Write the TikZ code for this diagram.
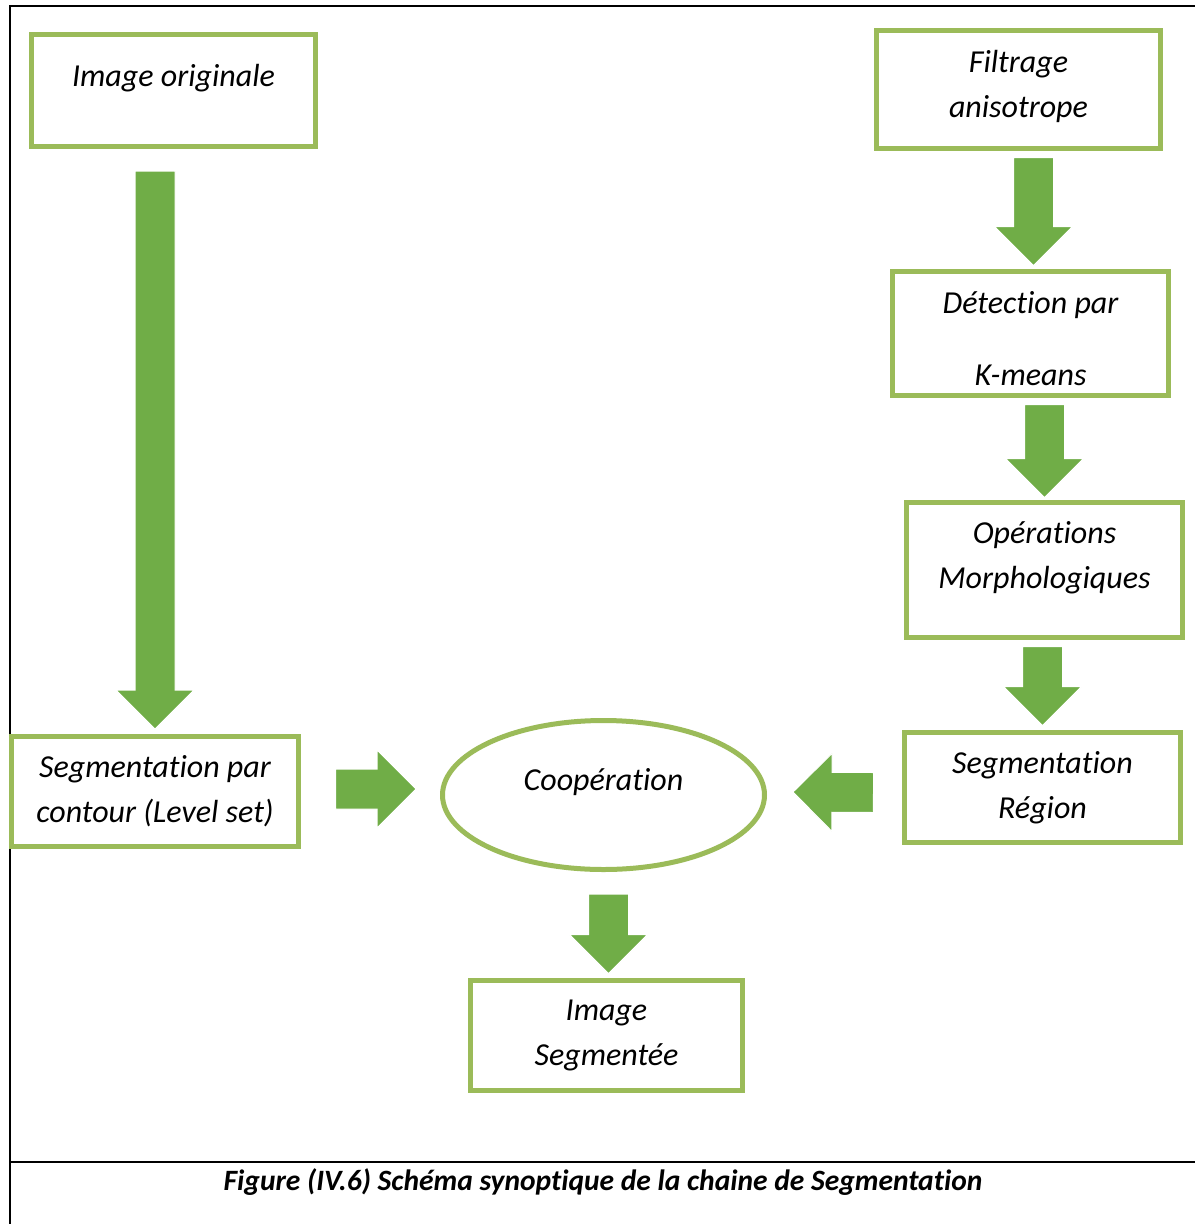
\documentclass[tikz,border=0pt]{standalone}
\usepackage{fontspec}
\setmainfont{Carlito}[Ligatures=NoCommon]
\usetikzlibrary{calc,shapes.geometric}
\definecolor{boxgreen}{HTML}{9BBB59}
\definecolor{arrowgreen}{HTML}{70AD47}

% block arrow from #1 (tail) to #2 (tip)
\newcommand{\blockarrow}[2]{%
  \coordinate (head) at ($(#2)!39pt!(#1)$);
  \fill[arrowgreen, draw=white, line width=1pt]
    ($(#1)!20pt!90:(#2)$) -- ($(head)!20pt!-90:(#1)$) -- ($(head)!39pt!-90:(#1)$) -- (#2)
    -- ($(head)!39pt!90:(#1)$) -- ($(head)!20pt!90:(#1)$) -- ($(#1)!20pt!-90:(#2)$) -- cycle;
}

\begin{document}
\begin{tikzpicture}[x=1pt, y=-1pt,
  box/.style={draw=boxgreen, line width=5pt, fill=white, inner sep=0pt, align=center,
    font=\fontsize{32}{45}\selectfont\itshape},
  textsize/.style 2 args={text height=#1, text depth=#2}]
\useasboundingbox (0,0) rectangle (1195,1224);
\draw[line width=2pt] (10,1224) -- (10,6) -- (1195,6);
\draw[line width=2pt] (10,1162) -- (1195,1162);

\node[box, textsize={0pt}{9pt}, minimum width=284, minimum height=112] (orig) at (173.5,90.5) {Image originale};
\node[box, textsize={55pt}{0pt}, minimum width=284, minimum height=118] (filt) at (1018.5,89.5) {Filtrage\\anisotrope};
\node[box, textsize={103pt}{0pt}, minimum width=276, minimum height=124] (det) at (1030.5,333.5) {Détection par\\[27pt]K-means};
\node[box, textsize={36pt}{0pt}, minimum width=276, minimum height=135] (morph) at (1044.5,570) {Opérations\\Morphologiques};
\node[box, minimum width=276, minimum height=110] (region) at (1042.5,787.5) {Segmentation\\Région};
\node[box, minimum width=287, minimum height=110] (contour) at (155,791.5) {Segmentation par\\contour (Level set)};
\node[box, textsize={0pt}{10pt}, ellipse, minimum width=322, minimum height=149] (coop) at (603.5,795) {Coopération};
\node[box, minimum width=272, minimum height=110] (result) at (606.5,1035.5) {Image\\Segmentée};

\coordinate (s1) at ($(contour.north |- orig.south)+(0,22)$);
\coordinate (t1) at ($(contour.north)+(0,-5)$);
\coordinate (s2) at ($(det.north |- filt.south)+(3,6.5)$);
\coordinate (t2) at ($(det.north)+(3,-3.5)$);
\coordinate (s3) at ($(morph.north |- det.south)+(0,6.5)$);
\coordinate (t3) at ($(morph.north)+(0,-2.5)$);
\coordinate (s4) at ($(region.north |- morph.south)+(0,6.5)$);
\coordinate (t4) at ($(region.north)+(0,-4.5)$);
\coordinate (s5) at ($(contour.east)+(34.5,-2.5)$);
\coordinate (t5) at ($(coop.west)+(-24,-6)$);
\coordinate (s6) at ($(region.west)+(-28.5,5)$);
\coordinate (t6) at ($(coop.east)+(26,-3)$);
\coordinate (s7) at ($(result.north |- coop.south)+(2,22)$);
\coordinate (t7) at ($(result.north)+(2,-4.5)$);
\blockarrow{s1}{t1}
\blockarrow{s2}{t2}
\blockarrow{s3}{t3}
\blockarrow{s4}{t4}
\blockarrow{s5}{t5}
\blockarrow{s6}{t6}
\blockarrow{s7}{t7}

\node[font=\fontsize{29.5}{32}\selectfont\bfseries\itshape] (caption) at (603,1182)
  {Figure (IV.6) Schéma synoptique de la chaine de Segmentation};
\end{tikzpicture}
\end{document}
